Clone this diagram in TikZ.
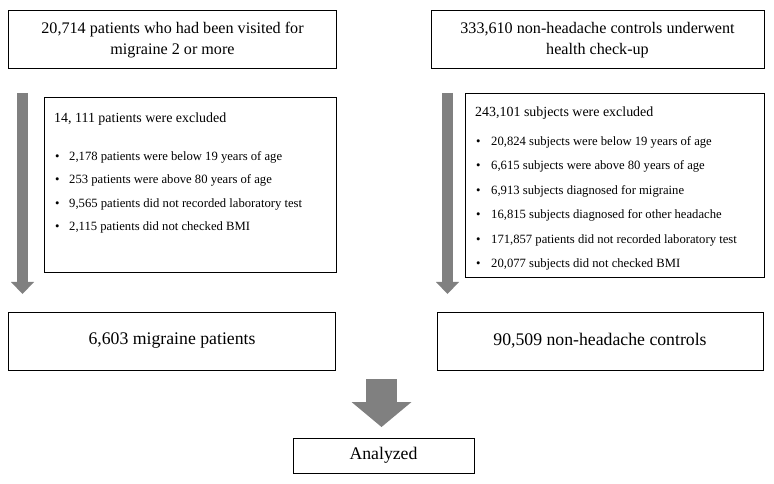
\documentclass[tikz,border=0pt]{standalone}
\usepackage{fontspec}
\setmainfont{Liberation Serif}
\usetikzlibrary{arrows.meta,positioning}
\definecolor{arrowgray}{RGB}{128,128,128}

\begin{document}
\begin{tikzpicture}[x=1bp,y=-1bp,
	box/.style={draw,line width=1bp,inner sep=0pt,align=center},
	headtext/.style={font=\fontsize{16.2}{20.5}\selectfont},
	endtext/.style={font=\fontsize{17.8}{20}\selectfont},
	exhead/.style={anchor=base west,inner sep=0pt,font=\fontsize{14}{16}\selectfont},
	item/.style={anchor=base west,inner sep=0pt,font=\fontsize{12.7}{15}\selectfont},
	flow/.style={draw=arrowgray,line width=11bp,-{Triangle[width=23bp,length=12bp,line width=0pt]}},
	bigflow/.style={draw=arrowgray,line width=31bp,-{Triangle[width=60bp,length=25bp,line width=0pt]}}]
	\useasboundingbox (0,0) rectangle (774,484);
	
	% source groups
	\node[box,headtext,minimum width=327bp,minimum height=58bp] (migr) at (172.5,40)
	{20,714 patients who had been visited for\\migraine 2 or more};
	\node[box,headtext,minimum width=333bp,minimum height=58bp] (ctrl) at (597.5,40)
	{333,610 non-headache controls underwent\\health check-up};
	
	% exclusions
	\node[box,minimum width=291bp,minimum height=174bp] (exmigr) at (190.5,185) {};
	\node[exhead] (exmigrhead) at (54,123) {14, 111 patients were excluded};
	\foreach \t [count=\i] in {{2,178 patients were below 19 years of age},
		{253 patients were above 80 years of age},
		{9,565 patients did not recorded laboratory test},
		{2,115 patients did not checked BMI}}
	\node[item] (exmigr\i) at (55,{160.5+23.3*(\i-1)}) {\makebox[14bp][l]{\textbullet}\t};
	
	\node[box,minimum width=299bp,minimum height=183bp] (exctrl) at (614.5,185.5) {};
	\node[exhead] (exctrlhead) at (475,117) {243,101 subjects were excluded};
	\foreach \t [count=\i] in {{20,824 subjects were below 19 years of age},
		{6,615 subjects were above 80 years of age},
		{6,913 subjects diagnosed for migraine},
		{16,815 subjects diagnosed for other headache},
		{171,857 patients did not recorded laboratory test},
		{20,077 subjects did not checked BMI}}
	\node[item] (exctrl\i) at (476,{145.5+24.4*(\i-1)}) {\makebox[15bp][l]{\textbullet}\t};
	
	% final groups
	\node[box,endtext,minimum width=326bp,minimum height=58bp] (case) at (172,341) {6,603 migraine patients};
	\node[box,endtext,minimum width=326bp,minimum height=58bp] (cont) at (600,341) {90,509 non-headache controls};
	\node[box,endtext,minimum width=181bp,minimum height=35bp] (anal) at (383.5,455.5) {Analyzed};
	
	% arrows
	\coordinate (migrA) at (22.5,93);
	\coordinate (migrB) at (22.5,294);
	\coordinate (ctrlA) at (447.5,93);
	\coordinate (ctrlB) at (447.5,294);
	\coordinate (joinA) at (381.5,379);
	\coordinate (joinB) at (381.5,427);
	\draw[flow] (migrA) -- (migrB);
	\draw[flow] (ctrlA) -- (ctrlB);
	\draw[bigflow] (joinA) -- (joinB);
	
\end{tikzpicture}
\end{document}
